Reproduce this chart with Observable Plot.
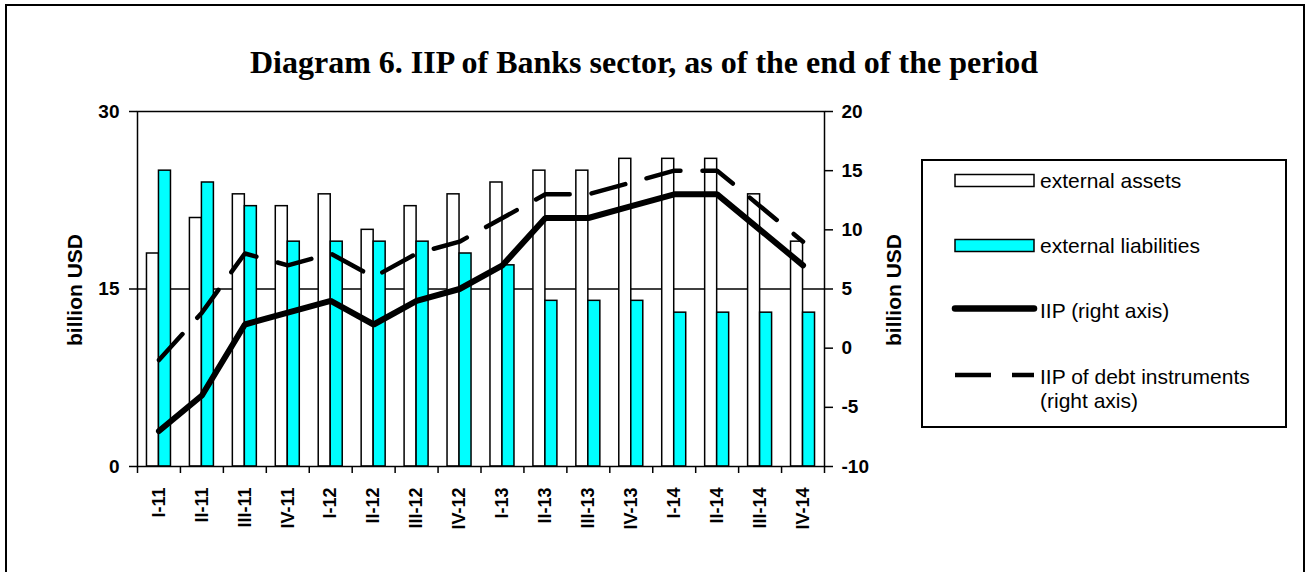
<!DOCTYPE html>
<html>
<head>
<meta charset="utf-8">
<script src="https://cdn.jsdelivr.net/npm/d3@7"></script>
<script src="https://cdn.jsdelivr.net/npm/@observablehq/plot@0.6"></script>
<style>
  html, body { margin: 0; padding: 0; background: #fff; overflow: hidden; }
  #wrap { position: relative; width: 1309px; height: 572px; overflow: hidden; }
  #border { position: absolute; left: 5px; top: 4px; width: 1296px; height: 620px; border: 2px solid #000; }
  #title { position: absolute; left: 0; top: 46px; width: 1288px; text-align: center;
           font: bold 32px/32px "Liberation Serif", "Times New Roman", serif; color: #000; white-space: nowrap; }
  #chart { position: absolute; left: 0; top: 0; }
  #overlay { position: absolute; left: 0; top: 0; pointer-events: none; }
</style>
</head>
<body>
<div id="wrap">
  <div id="border"></div>
  <div id="title">Diagram 6. IIP of Banks sector, as of the end of the period</div>
  <div id="chart"></div>
  <svg id="overlay" width="1309" height="572"></svg>
</div>
<script>
// ---- data ----
const categories = ["I-11","II-11","III-11","IV-11","I-12","II-12","III-12","IV-12",
                    "I-13","II-13","III-13","IV-13","I-14","II-14","III-14","IV-14"];
const externalAssets      = [18, 21, 23, 22, 23, 20, 22, 23, 24, 25, 25, 26, 26, 26, 23, 19];
const externalLiabilities = [25, 24, 22, 19, 19, 19, 19, 18, 17, 14, 14, 14, 13, 13, 13, 13];
const iipRight            = [-7, -4, 2, 3, 4, 2, 4, 5, 7, 11, 11, 12, 13, 13, 10, 7];
const iipDebtRight        = [-1, 3, 8, 7, 8, 6, 8, 9, 11, 13, 13, 14, 15, 15, 12, 9];
const leftTicks  = [0, 15, 30];
const rightTicks = [-10, -5, 0, 5, 10, 15, 20];
const seriesNames = ["external assets", "external liabilities", "IIP (right axis)", "IIP of debt instruments", "(right axis)"];
const axisTitle = "billion USD";

// right axis [-10,20] maps onto left axis [0,30]
const rightOffset = 10;

const rows = categories.map((c, i) => ({
  cat: c,
  assets: externalAssets[i],
  liabilities: externalLiabilities[i],
  iip: iipRight[i] + rightOffset,
  debt: iipDebtRight[i] + rightOffset
}));

const W = 1309, H = 572;
const mL = 137, mR = 485, mT = 111, mB = 106;
const bw = (W - mL - mR) / categories.length;
const barW = 12;

const chart = Plot.plot({
  width: W, height: H,
  marginLeft: mL, marginRight: mR, marginTop: mT, marginBottom: mB,
  style: { background: "transparent", fontFamily: "'Liberation Sans', Arial, sans-serif", fontWeight: "bold", overflow: "visible", color: "#000" },
  x: { type: "band", domain: categories, paddingInner: 0, paddingOuter: 0, round: false, label: null },
  y: { domain: [0, 30], label: null },
  marks: [
    Plot.ruleY([15], { stroke: "#000", strokeWidth: 1.5 }),
    Plot.barY(rows, { x: "cat", y: "assets", fill: "#fff", stroke: "#000", strokeWidth: 1.5,
                      insetLeft: bw / 2 - barW, insetRight: bw / 2 }),
    Plot.barY(rows, { x: "cat", y: "liabilities", fill: "#00ffff", stroke: "#000", strokeWidth: 1.5,
                      insetLeft: bw / 2, insetRight: bw / 2 - barW }),
    Plot.line(rows, { x: "cat", y: "debt", stroke: "#000", strokeWidth: 4.5, strokeDasharray: "35,22", strokeLinejoin: "miter" }),
    Plot.line(rows, { x: "cat", y: "iip", stroke: "#000", strokeWidth: 6, strokeLinejoin: "miter" }),
    Plot.frame({ stroke: "#000", strokeWidth: 1.5 }),
    Plot.axisY({ anchor: "left", ticks: leftTicks, tickSize: 8, tickPadding: 10, fontSize: 19, strokeWidth: 1.5, label: null }),
    Plot.axisY({ anchor: "right", ticks: rightTicks.map(v => v + rightOffset), tickFormat: d => String(d - rightOffset),
                 tickSize: 8, tickPadding: 9, fontSize: 19, strokeWidth: 1.5, label: null }),
    Plot.axisX({ ticks: categories, tickSize: 7, tickFormat: () => "", dx: -bw / 2, strokeWidth: 1.5, label: null }),
    Plot.axisX({ ticks: [categories[categories.length - 1]], tickSize: 7, tickFormat: () => "", dx: bw / 2, strokeWidth: 1.5, label: null }),
    Plot.axisX({ ticks: categories, tickSize: 0, tickPadding: 21, tickRotate: -90, fontSize: 18, label: null })
  ]
});
document.getElementById("chart").appendChild(chart);

// ---- axis titles and legend ----
const ov = d3.select("#overlay");
const yTitle = (x) => ov.append("text")
  .attr("transform", `translate(${x},290) rotate(-90)`)
  .attr("text-anchor", "middle").attr("dominant-baseline", "central")
  .attr("font-family", "'Liberation Sans', Arial, sans-serif").attr("font-weight", "bold")
  .attr("font-size", 21).text(axisTitle);
yTitle(74);
yTitle(893);

const lg = ov.append("g");
lg.append("rect").attr("x", 922).attr("y", 160).attr("width", 364).attr("height", 267)
  .attr("fill", "#fff").attr("stroke", "#000").attr("stroke-width", 2);
const symX1 = 955, symX2 = 1034, textX = 1040;
lg.append("rect").attr("x", symX1).attr("y", 174.5).attr("width", symX2 - symX1).attr("height", 12)
  .attr("fill", "#fff").attr("stroke", "#000").attr("stroke-width", 1.5);
lg.append("rect").attr("x", symX1).attr("y", 239.5).attr("width", symX2 - symX1).attr("height", 12)
  .attr("fill", "#00ffff").attr("stroke", "#000").attr("stroke-width", 1.5);
lg.append("line").attr("x1", symX1).attr("x2", symX2).attr("y1", 308.5).attr("y2", 308.5)
  .attr("stroke", "#000").attr("stroke-width", 6.5).attr("stroke-linecap", "round");
lg.append("line").attr("x1", symX1).attr("x2", symX2).attr("y1", 375).attr("y2", 375)
  .attr("stroke", "#000").attr("stroke-width", 4.5).attr("stroke-dasharray", "36,21");
const legendBaselines = [188, 253, 318, 384, 408];
seriesNames.forEach((t, i) => {
  lg.append("text").attr("x", textX).attr("y", legendBaselines[i])
    .attr("font-family", "'Liberation Sans', Arial, sans-serif").attr("font-size", 21)
    .text(t);
});
</script>
</body>
</html>
